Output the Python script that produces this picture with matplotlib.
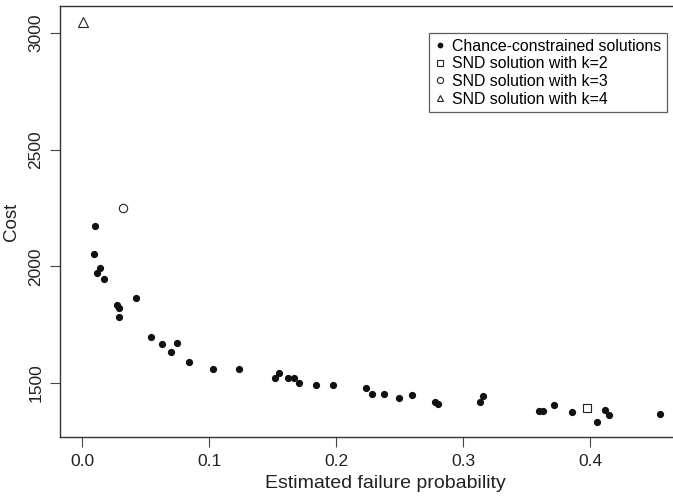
import matplotlib
matplotlib.use('Agg')
import matplotlib.pyplot as plt
import numpy as np

plt.rcParams['font.family'] = ['Liberation Sans', 'DejaVu Sans']

# solutions chance-constrained (probabilite estimee, cout)
prob_cc = [0.0100, 0.0092, 0.0142, 0.0121, 0.0171, 0.0425, 0.0276, 0.0289, 0.0294,
           0.0541, 0.0630, 0.0745, 0.0698, 0.0840, 0.1029, 0.1236, 0.1520, 0.1549,
           0.1625, 0.1669, 0.1709, 0.1843, 0.1974, 0.2234, 0.2283, 0.2380, 0.2496,
           0.2601, 0.2780, 0.2806, 0.3131, 0.3157, 0.3596, 0.3627, 0.3719, 0.3858,
           0.4052, 0.4115, 0.4147, 0.4549]
cout_cc = [2174, 2051, 1993, 1973, 1947, 1865, 1835, 1821, 1781,
           1698, 1667, 1673, 1634, 1590, 1560, 1559, 1520, 1541,
           1520, 1523, 1501, 1493, 1491, 1477, 1451, 1451, 1434,
           1449, 1417, 1410, 1420, 1444, 1380, 1381, 1406, 1377,
           1334, 1386, 1364, 1369]

# solutions SND
prob_k2, cout_k2 = [0.3976], [1394]
prob_k3, cout_k3 = [0.0323], [2251]
prob_k4, cout_k4 = [0.0010], [3048]

fig = plt.figure(figsize=(6.73, 4.97), dpi=100)
ax = fig.add_axes([60/673, 60/497, 1 - 60/673, (437 - 6)/497])

ax.plot(prob_cc, cout_cc, 'o', color='#111111', markersize=4.2, linestyle='none',
        label='Chance-constrained solutions')
ax.plot(prob_k2, cout_k2, 's', mfc='white', mec='#222222', mew=0.8, markersize=5.5,
        linestyle='none', label='SND solution with k=2')
ax.plot(prob_k3, cout_k3, 'o', mfc='white', mec='#222222', mew=0.8, markersize=6,
        linestyle='none', label='SND solution with k=3')
ax.plot(prob_k4, cout_k4, '^', mfc='white', mec='#222222', mew=0.8, markersize=6.5,
        linestyle='none', label='SND solution with k=4')

ax.set_xlim(-22/1270, 591/1270)
ax.set_ylim(3000 - 404/0.23333, 3000 + 27/0.23333)
ax.set_xticks([0.0, 0.1, 0.2, 0.3, 0.4])
ax.set_xticklabels(['0.0', '0.1', '0.2', '0.3', '0.4'])
ax.set_yticks([1500, 2000, 2500, 3000])
for lbl in ax.get_yticklabels():
    lbl.set_rotation(90)
    lbl.set_va('center')
ax.tick_params(axis='both', direction='out', length=7, width=0.8, color='#444444',
               labelsize=12.5, pad=5, labelcolor='#222222')
for s in ['left', 'bottom', 'top']:
    ax.spines[s].set_linewidth(1.0)
    ax.spines[s].set_color('#333333')
ax.spines['right'].set_visible(False)

# la region du graphe d'origine depasse a droite : label x decale
ax.set_xlabel('Estimated failure probability', fontsize=14, color='#222222')
ax.xaxis.set_label_coords((385 - 60)/613, -38/431)
ax.set_ylabel('Cost', fontsize=13.5, color='#222222', labelpad=6)

leg = ax.legend(loc='upper right', bbox_to_anchor=((667 - 60)/613, 1 - 27/431),
                fontsize=11.4, frameon=True, fancybox=False, handlelength=0.6,
                handletextpad=0.5, borderpad=0.35, labelspacing=0.17, borderaxespad=0,
                markerscale=0.75)
leg.get_frame().set_edgecolor('#333333')
leg.get_frame().set_linewidth(0.9)

fig.savefig('out.png', dpi=100)
